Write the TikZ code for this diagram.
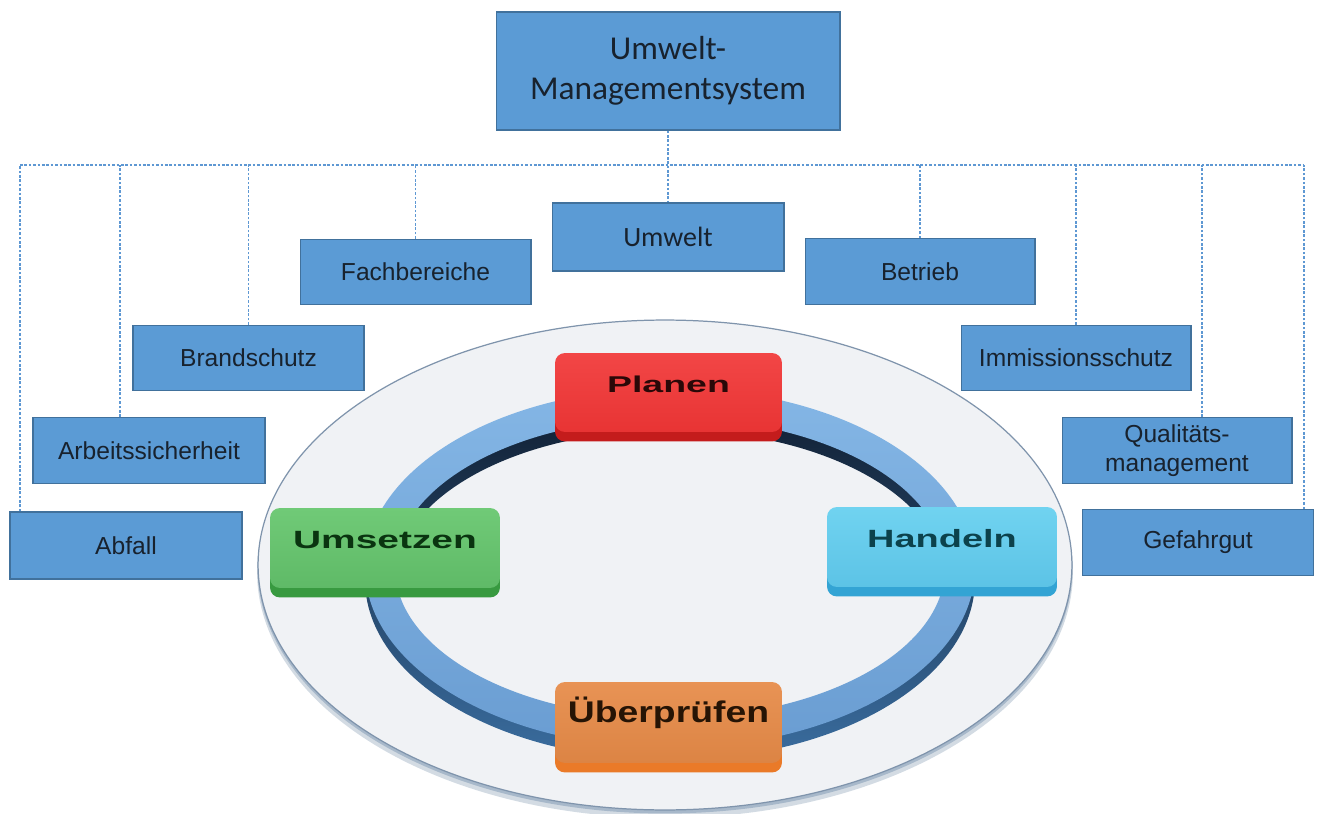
\documentclass[tikz,border=0pt]{standalone}
\usepackage{fontspec}
\setmainfont{Liberation Sans}
\newfontfamily\calfont{Carlito}
\usetikzlibrary{shadows}
\definecolor{boxfill}{HTML}{5B9BD5}
\definecolor{boxline}{HTML}{41719C}
\definecolor{boxtext}{HTML}{18222E}
\definecolor{dotblue}{HTML}{5E98D3}
\definecolor{ellfill}{HTML}{F0F2F5}
\definecolor{ellline}{HTML}{7F94AC}
\definecolor{shadA}{HTML}{D3DBE3}
\definecolor{shadB}{HTML}{A7B8CA}
\definecolor{ringTop}{HTML}{84B6E5}
\definecolor{ringBot}{HTML}{6A9DD2}
\definecolor{wallTop}{HTML}{101E31}
\definecolor{wallBot}{HTML}{3A6D9F}
\definecolor{planTop}{HTML}{F24646}
\definecolor{planBot}{HTML}{E83434}
\definecolor{planLip}{HTML}{C41C1C}
\definecolor{planTxt}{HTML}{2A0808}
\definecolor{umsTop}{HTML}{70CA77}
\definecolor{umsBot}{HTML}{5FBA67}
\definecolor{umsLip}{HTML}{389A40}
\definecolor{umsTxt}{HTML}{0A3410}
\definecolor{hanTop}{HTML}{70D3F0}
\definecolor{hanBot}{HTML}{5CC3E6}
\definecolor{hanLip}{HTML}{33A4D4}
\definecolor{hanTxt}{HTML}{0C424C}
\definecolor{uebTop}{HTML}{E89355}
\definecolor{uebBot}{HTML}{DC8444}
\definecolor{uebLip}{HTML}{EA7A28}
\definecolor{uebTxt}{HTML}{261405}
\begin{document}
\begin{tikzpicture}[x=0.02cm,y=-0.02cm,
  rbox/.style={draw=boxline, line width=0.6pt, fill=boxfill, text=boxtext,
    minimum width=4.62cm, minimum height=1.31cm, inner sep=0pt, align=center,
    font=\fontsize{14}{16.4}\selectfont},
  conn/.style={dotblue, line width=0.9pt, dash pattern=on 1.5pt off 1pt},
  cyc/.style={rounded corners=0.2cm, minimum width=4.56cm, minimum height=1.6cm,
    inner sep=0pt, text height=0.35cm, text depth=0.35cm,
    font=\bfseries\fontsize{14.2}{17}\selectfont},
  lip/.style={drop shadow={shadow xshift=0pt, shadow yshift=-0.19cm, opacity=1, fill=#1}}
]
\useasboundingbox (0,0) rectangle (1318,814);

% big plate
\fill[shadA] (665,572) ellipse [x radius=8.16cm, y radius=4.92cm];
\fill[shadB] (665,568) ellipse [x radius=8.15cm, y radius=4.91cm];
\fill[ellfill, draw=ellline, line width=0.7pt] (665,565) ellipse [x radius=8.14cm, y radius=4.9cm];

% ring: wall then top face
\shade[even odd rule, top color=wallTop, bottom color=wallBot]
  (670,580) ellipse [x radius=6.1cm, y radius=3.6cm]
  (670,580) ellipse [x radius=5.5cm, y radius=3.0cm];
\shade[even odd rule, top color=ringTop, bottom color=ringBot]
  (670,568) ellipse [x radius=6.1cm, y radius=3.6cm]
  (670,568) ellipse [x radius=5.5cm, y radius=3.0cm];

% cycle boxes
\node[cyc, lip=planLip, top color=planTop, bottom color=planBot, text=planTxt,
  minimum width=4.54cm, minimum height=1.58cm] (planen) at (668.5,392.5)
  {\scalebox{1.64}[1]{\fontsize{13}{15}\selectfont Planen}};
\node[cyc, lip=umsLip, top color=umsTop, bottom color=umsBot, text=umsTxt,
  minimum width=4.6cm, minimum height=1.6cm] (umsetzen) at (385,548)
  {\scalebox{1.56}[1]{Umsetzen}};
\node[cyc, lip=hanLip, top color=hanTop, bottom color=hanBot, text=hanTxt,
  minimum width=4.6cm, minimum height=1.6cm] (handeln) at (942,547)
  {\scalebox{1.52}[1]{Handeln}};
\node[cyc, lip=uebLip, top color=uebTop, bottom color=uebBot, text=uebTxt,
  minimum width=4.54cm, minimum height=1.62cm] (ueberpruefen) at (668.5,722.5)
  {\scalebox{1.25}[1]{\fontsize{17}{19}\selectfont Überprüfen}};

% hierarchy boxes
\node[rbox, minimum width=6.88cm, minimum height=2.36cm,
  font=\calfont\fontsize{19}{22.5}\selectfont] (top) at (668,71)
  {Umwelt-\\Managementsystem};
\node[rbox, minimum width=4.64cm, minimum height=1.36cm,
  font=\calfont\fontsize{15.9}{18}\selectfont] (umwelt) at (668,237) {Umwelt};
\node[rbox] (fach) at (415.5,272) {Fachbereiche};
\node[rbox, minimum width=4.6cm] (betrieb) at (920,271.5) {Betrieb};
\node[rbox] (brand) at (248.5,358) {Brandschutz};
\node[rbox, minimum width=4.6cm] (immis) at (1076,358) {Immissionsschutz};
\node[rbox, minimum width=4.64cm, minimum height=1.32cm] (arbeit) at (149,450.5) {Arbeitssicherheit};
\node[rbox, minimum width=4.6cm, minimum height=1.32cm] (qual) at (1177,450.5) {Qualitäts-\\management};
\node[rbox, minimum width=4.64cm, minimum height=1.34cm] (abfall) at (126,545.5) {Abfall};
\node[rbox] (gefahr) at (1198,542.5) {Gefahrgut};

% connectors
\coordinate (busL) at (20,165);
\coordinate (busR) at (1304,165);
\draw[conn] (busL) -- (busR);
\draw[conn] (top.south) -- (umwelt.north);
\draw[conn] (abfall.north -| busL) -- (busL);
\draw[conn] (gefahr.north -| busR) -- (busR);
\path ([xshift=-0.58cm]arbeit.north) coordinate (tArb);
\draw[conn] (tArb) -- (tArb |- busL);
\draw[conn] (brand.north) -- (brand.north |- busL);
\draw[conn] (fach.north) -- (fach.north |- busL);
\draw[conn] (betrieb.north) -- (betrieb.north |- busL);
\draw[conn] (immis.north) -- (immis.north |- busL);
\path ([xshift=0.5cm]qual.north) coordinate (tQual);
\draw[conn] (tQual) -- (tQual |- busL);
\end{tikzpicture}
\end{document}
